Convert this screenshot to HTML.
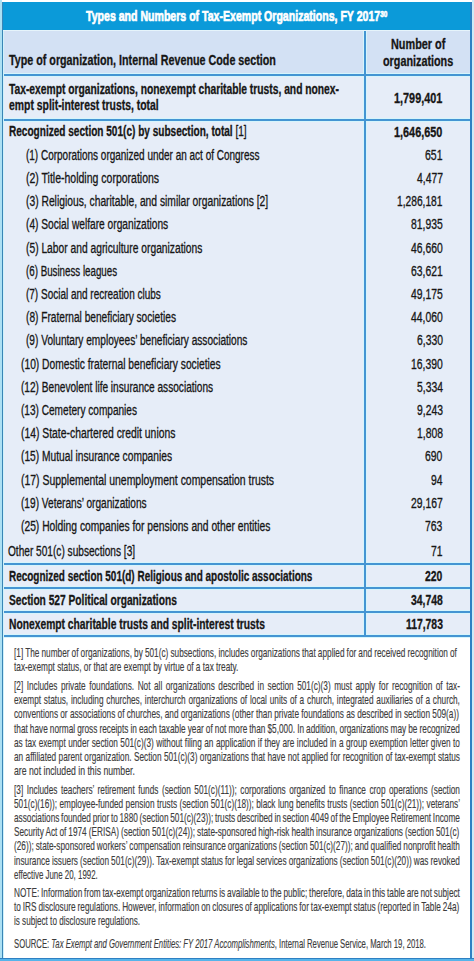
<!DOCTYPE html><html><head><meta charset="utf-8"><style>
*{margin:0;padding:0;box-sizing:border-box}
html,body{width:474px;height:961px;overflow:hidden;background:#ffffff;font-family:"Liberation Sans",sans-serif}
.ln{position:absolute;white-space:nowrap;transform-origin:0 0;line-height:20px}
.bd{-webkit-text-stroke:0.3px currentColor}
.rg{-webkit-text-stroke:0.3px currentColor}
.fn{-webkit-text-stroke:0.15px currentColor}
.tt{-webkit-text-stroke:0.65px currentColor}
sup{font-size:0.6em;vertical-align:0;position:relative;top:-0.55em}
</style></head><body><div style="position:absolute;left:0px;top:0px;width:2px;height:961px;background:#ade0f3"></div>
<div style="position:absolute;left:472px;top:0px;width:2px;height:961px;background:#cdebf8"></div>
<div style="position:absolute;left:2px;top:2px;width:470px;height:28px;background:#0b9ad9"></div>
<div style="position:absolute;left:2px;top:30px;width:470px;height:1px;background:#e6f4fb"></div>
<div style="position:absolute;left:2px;top:31px;width:470px;height:43px;background:#d3e1f4"></div>
<div style="position:absolute;left:2px;top:75px;width:470px;height:561px;background:#e6edf8"></div>
<div style="position:absolute;left:2px;top:637px;width:470px;height:321px;background:#ffffff"></div>
<div style="position:absolute;left:2px;top:73px;width:470px;height:1px;background:#d6f5fc"></div>
<div style="position:absolute;left:2px;top:76px;width:470px;height:1px;background:#d6f5fc"></div>
<div style="position:absolute;left:2px;top:118px;width:470px;height:1px;background:#d6f5fc"></div>
<div style="position:absolute;left:2px;top:121px;width:470px;height:1px;background:#d6f5fc"></div>
<div style="position:absolute;left:2px;top:562px;width:470px;height:1px;background:#d6f5fc"></div>
<div style="position:absolute;left:2px;top:565px;width:470px;height:1px;background:#d6f5fc"></div>
<div style="position:absolute;left:2px;top:586px;width:470px;height:1px;background:#d6f5fc"></div>
<div style="position:absolute;left:2px;top:589px;width:470px;height:1px;background:#d6f5fc"></div>
<div style="position:absolute;left:2px;top:610px;width:470px;height:1px;background:#d6f5fc"></div>
<div style="position:absolute;left:2px;top:613px;width:470px;height:1px;background:#d6f5fc"></div>
<div style="position:absolute;left:2px;top:634px;width:470px;height:1px;background:#d6f5fc"></div>
<div style="position:absolute;left:2px;top:637px;width:470px;height:1px;background:#d6f5fc"></div>
<div style="position:absolute;left:363px;top:31px;width:1px;height:605px;background:#d6f5fc"></div>
<div style="position:absolute;left:366px;top:31px;width:1px;height:605px;background:#d6f5fc"></div>
<div style="position:absolute;left:2px;top:74px;width:470px;height:2px;background:#4495d3"></div>
<div style="position:absolute;left:2px;top:119px;width:470px;height:2px;background:#4495d3"></div>
<div style="position:absolute;left:2px;top:563px;width:470px;height:2px;background:#4495d3"></div>
<div style="position:absolute;left:2px;top:587px;width:470px;height:2px;background:#4495d3"></div>
<div style="position:absolute;left:2px;top:611px;width:470px;height:2px;background:#4495d3"></div>
<div style="position:absolute;left:2px;top:635px;width:470px;height:2px;background:#4495d3"></div>
<div style="position:absolute;left:364px;top:31px;width:2px;height:605px;background:#4495d3"></div>
<div style="position:absolute;left:2px;top:2px;width:1.3px;height:958px;background:#3a85b6"></div>
<div style="position:absolute;left:3.3px;top:31px;width:1px;height:927px;background:#d0f2fb"></div>
<div style="position:absolute;left:470.3px;top:2px;width:1.7px;height:958px;background:#2f80c2"></div>
<div style="position:absolute;left:0px;top:957.5px;width:474px;height:1.7px;background:#2f80c2"></div>
<div style="position:absolute;left:0px;top:959.2px;width:474px;height:1.8px;background:#56b4ea"></div>
<div class="ln tt" style="font-size:14.4px;font-weight:700;color:#ffffff;left:86.30px;top:6.41px;transform:scaleX(0.7342)">Types and Numbers of Tax-Exempt Organizations, FY 2017<sup>30</sup></div>
<div class="ln bd" style="font-size:13.8px;font-weight:700;color:#161616;left:8.50px;top:51.22px;transform:scaleX(0.7777)">Type of organization, Internal Revenue Code section</div>
<div class="ln bd" style="font-size:13.8px;font-weight:700;color:#161616;left:391.30px;top:35.02px;transform:scaleX(0.7884)">Number of</div>
<div class="ln bd" style="font-size:13.8px;font-weight:700;color:#161616;left:383.20px;top:51.52px;transform:scaleX(0.7827)">organizations</div>
<div class="ln bd" style="font-size:13.8px;font-weight:700;color:#161616;left:8.50px;top:79.62px;transform:scaleX(0.7451)">Tax-exempt organizations, nonexempt charitable trusts, and nonex-</div>
<div class="ln bd" style="font-size:13.8px;font-weight:700;color:#161616;left:8.50px;top:96.22px;transform:scaleX(0.7540)">empt split-interest trusts, total</div>
<div class="ln bd" style="font-size:13.8px;font-weight:700;color:#161616;left:394.10px;top:88.52px;transform:scaleX(0.7868)">1,799,401</div>
<div class="ln bd" style="font-size:13.8px;font-weight:700;color:#161616;left:8.90px;top:122.22px;transform:scaleX(0.7292)">Recognized section 501(c) by subsection, total <span style="font-weight:400">[1]</span></div>
<div class="ln bd" style="font-size:13.8px;font-weight:700;color:#161616;left:394.40px;top:122.72px;transform:scaleX(0.7868)">1,646,650</div>
<div class="ln rg" style="font-size:13.8px;font-weight:400;color:#161616;left:26.00px;top:145.82px;transform:scaleX(0.7229)">(1) Corporations organized under an act of Congress</div>
<div class="ln rg" style="font-size:13.8px;font-weight:400;color:#161616;left:425.20px;top:145.82px;transform:scaleX(0.7598)">651</div>
<div class="ln rg" style="font-size:13.8px;font-weight:400;color:#161616;left:26.00px;top:169.02px;transform:scaleX(0.7612)">(2) Title-holding corporations</div>
<div class="ln rg" style="font-size:13.8px;font-weight:400;color:#161616;left:416.70px;top:169.02px;transform:scaleX(0.7529)">4,477</div>
<div class="ln rg" style="font-size:13.8px;font-weight:400;color:#161616;left:26.00px;top:192.22px;transform:scaleX(0.7463)">(3) Religious, charitable, and similar organizations [2]</div>
<div class="ln rg" style="font-size:13.8px;font-weight:400;color:#161616;left:397.20px;top:192.22px;transform:scaleX(0.7412)">1,286,181</div>
<div class="ln rg" style="font-size:13.8px;font-weight:400;color:#161616;left:26.00px;top:215.42px;transform:scaleX(0.7388)">(4) Social welfare organizations</div>
<div class="ln rg" style="font-size:13.8px;font-weight:400;color:#161616;left:411.00px;top:215.42px;transform:scaleX(0.7511)">81,935</div>
<div class="ln rg" style="font-size:13.8px;font-weight:400;color:#161616;left:26.00px;top:238.62px;transform:scaleX(0.7443)">(5) Labor and agriculture organizations</div>
<div class="ln rg" style="font-size:13.8px;font-weight:400;color:#161616;left:411.00px;top:238.62px;transform:scaleX(0.7511)">46,660</div>
<div class="ln rg" style="font-size:13.8px;font-weight:400;color:#161616;left:26.00px;top:261.82px;transform:scaleX(0.7071)">(6) Business leagues</div>
<div class="ln rg" style="font-size:13.8px;font-weight:400;color:#161616;left:411.00px;top:261.82px;transform:scaleX(0.7512)">63,621</div>
<div class="ln rg" style="font-size:13.8px;font-weight:400;color:#161616;left:26.00px;top:285.02px;transform:scaleX(0.7233)">(7) Social and recreation clubs</div>
<div class="ln rg" style="font-size:13.8px;font-weight:400;color:#161616;left:411.00px;top:285.02px;transform:scaleX(0.7512)">49,175</div>
<div class="ln rg" style="font-size:13.8px;font-weight:400;color:#161616;left:26.00px;top:308.22px;transform:scaleX(0.7354)">(8) Fraternal beneficiary societies</div>
<div class="ln rg" style="font-size:13.8px;font-weight:400;color:#161616;left:411.00px;top:308.22px;transform:scaleX(0.7512)">44,060</div>
<div class="ln rg" style="font-size:13.8px;font-weight:400;color:#161616;left:26.00px;top:331.42px;transform:scaleX(0.7340)">(9) Voluntary employees’ beneficiary associations</div>
<div class="ln rg" style="font-size:13.8px;font-weight:400;color:#161616;left:416.76px;top:331.42px;transform:scaleX(0.7512)">6,330</div>
<div class="ln rg" style="font-size:13.8px;font-weight:400;color:#161616;left:20.70px;top:354.62px;transform:scaleX(0.7441)">(10) Domestic fraternal beneficiary societies</div>
<div class="ln rg" style="font-size:13.8px;font-weight:400;color:#161616;left:411.00px;top:354.62px;transform:scaleX(0.7512)">16,390</div>
<div class="ln rg" style="font-size:13.8px;font-weight:400;color:#161616;left:20.70px;top:377.82px;transform:scaleX(0.7324)">(12) Benevolent life insurance associations</div>
<div class="ln rg" style="font-size:13.8px;font-weight:400;color:#161616;left:416.76px;top:377.82px;transform:scaleX(0.7512)">5,334</div>
<div class="ln rg" style="font-size:13.8px;font-weight:400;color:#161616;left:20.70px;top:401.02px;transform:scaleX(0.7308)">(13) Cemetery companies</div>
<div class="ln rg" style="font-size:13.8px;font-weight:400;color:#161616;left:416.76px;top:401.02px;transform:scaleX(0.7512)">9,243</div>
<div class="ln rg" style="font-size:13.8px;font-weight:400;color:#161616;left:20.70px;top:424.22px;transform:scaleX(0.7512)">(14) State-chartered credit unions</div>
<div class="ln rg" style="font-size:13.8px;font-weight:400;color:#161616;left:416.76px;top:424.22px;transform:scaleX(0.7512)">1,808</div>
<div class="ln rg" style="font-size:13.8px;font-weight:400;color:#161616;left:20.70px;top:447.42px;transform:scaleX(0.7402)">(15) Mutual insurance companies</div>
<div class="ln rg" style="font-size:13.8px;font-weight:400;color:#161616;left:425.40px;top:447.42px;transform:scaleX(0.7512)">690</div>
<div class="ln rg" style="font-size:13.8px;font-weight:400;color:#161616;left:20.70px;top:470.62px;transform:scaleX(0.7569)">(17) Supplemental unemployment compensation trusts</div>
<div class="ln rg" style="font-size:13.8px;font-weight:400;color:#161616;left:431.16px;top:470.62px;transform:scaleX(0.7512)">94</div>
<div class="ln rg" style="font-size:13.8px;font-weight:400;color:#161616;left:20.70px;top:493.82px;transform:scaleX(0.7338)">(19) Veterans’ organizations</div>
<div class="ln rg" style="font-size:13.8px;font-weight:400;color:#161616;left:411.00px;top:493.82px;transform:scaleX(0.7512)">29,167</div>
<div class="ln rg" style="font-size:13.8px;font-weight:400;color:#161616;left:20.70px;top:517.02px;transform:scaleX(0.7455)">(25) Holding companies for pensions and other entities</div>
<div class="ln rg" style="font-size:13.8px;font-weight:400;color:#161616;left:425.40px;top:517.02px;transform:scaleX(0.7512)">763</div>
<div class="ln rg" style="font-size:13.8px;font-weight:400;color:#161616;left:8.30px;top:541.62px;transform:scaleX(0.7334)">Other 501(c) subsections [3]</div>
<div class="ln rg" style="font-size:13.8px;font-weight:400;color:#161616;left:431.16px;top:541.62px;transform:scaleX(0.7512)">71</div>
<div class="ln bd" style="font-size:13.8px;font-weight:700;color:#161616;left:8.60px;top:567.22px;transform:scaleX(0.7221)">Recognized section 501(d) Religious and apostolic associations</div>
<div class="ln bd" style="font-size:13.8px;font-weight:700;color:#161616;left:425.40px;top:567.22px;transform:scaleX(0.7512)">220</div>
<div class="ln bd" style="font-size:13.8px;font-weight:700;color:#161616;left:8.60px;top:591.32px;transform:scaleX(0.7394)">Section 527 Political organizations</div>
<div class="ln bd" style="font-size:13.8px;font-weight:700;color:#161616;left:411.00px;top:591.32px;transform:scaleX(0.7512)">34,748</div>
<div class="ln bd" style="font-size:13.8px;font-weight:700;color:#161616;left:8.60px;top:615.12px;transform:scaleX(0.7453)">Nonexempt charitable trusts and split-interest trusts</div>
<div class="ln bd" style="font-size:13.8px;font-weight:700;color:#161616;left:405.80px;top:615.12px;transform:scaleX(0.7512)">117,783</div>
<div class="ln fn" style="font-size:12.4px;font-weight:400;color:#3d3d3d;word-spacing:-0.234px;left:14.00px;top:643.20px;transform:scaleX(0.6655)">[1] The number of organizations, by 501(c) subsections, includes organizations that applied for and received recognition of</div>
<div class="ln fn" style="font-size:12.4px;font-weight:400;color:#3d3d3d;left:14.00px;top:657.40px;transform:scaleX(0.6668)">tax-exempt status, or that are exempt by virtue of a tax treaty.</div>
<div class="ln fn" style="font-size:12.4px;font-weight:400;color:#3d3d3d;word-spacing:1.844px;left:14.00px;top:675.90px;transform:scaleX(0.6655)">[2] Includes private foundations. Not all organizations described in section 501(c)(3) must apply for recognition of tax-</div>
<div class="ln fn" style="font-size:12.4px;font-weight:400;color:#3d3d3d;word-spacing:0.768px;left:14.00px;top:690.20px;transform:scaleX(0.6655)">exempt status, including churches, interchurch organizations of local units of a church, integrated auxiliaries of a church,</div>
<div class="ln fn" style="font-size:12.4px;font-weight:400;color:#3d3d3d;word-spacing:-0.019px;left:14.00px;top:704.40px;transform:scaleX(0.6655)">conventions or associations of churches, and organizations (other than private foundations as described in section 509(a))</div>
<div class="ln fn" style="font-size:12.4px;font-weight:400;color:#3d3d3d;word-spacing:-0.262px;left:14.00px;top:718.60px;transform:scaleX(0.6655)">that have normal gross receipts in each taxable year of not more than &#36;5,000. In addition, organizations may be recognized</div>
<div class="ln fn" style="font-size:12.4px;font-weight:400;color:#3d3d3d;word-spacing:0.269px;left:14.00px;top:732.80px;transform:scaleX(0.6655)">as tax exempt under section 501(c)(3) without filing an application if they are included in a group exemption letter given to</div>
<div class="ln fn" style="font-size:12.4px;font-weight:400;color:#3d3d3d;word-spacing:0.189px;left:14.00px;top:747.00px;transform:scaleX(0.6655)">an affiliated parent organization. Section 501(c)(3) organizations that have not applied for recognition of tax-exempt status</div>
<div class="ln fn" style="font-size:12.4px;font-weight:400;color:#3d3d3d;left:14.00px;top:761.20px;transform:scaleX(0.7015)">are not included in this number.</div>
<div class="ln fn" style="font-size:12.4px;font-weight:400;color:#3d3d3d;word-spacing:1.846px;left:14.00px;top:779.50px;transform:scaleX(0.6655)">[3] Includes teachers’ retirement funds (section 501(c)(11)); corporations organized to finance crop operations (section</div>
<div class="ln fn" style="font-size:12.4px;font-weight:400;color:#3d3d3d;word-spacing:0.179px;left:14.00px;top:793.80px;transform:scaleX(0.6655)">501(c)(16)); employee-funded pension trusts (section 501(c)(18)); black lung benefits trusts (section 501(c)(21)); veterans’</div>
<div class="ln fn" style="font-size:12.4px;font-weight:400;color:#3d3d3d;word-spacing:-0.825px;left:14.00px;top:808.00px;transform:scaleX(0.6655)">associations founded prior to 1880 (section 501(c)(23)); trusts described in section 4049 of the Employee Retirement Income</div>
<div class="ln fn" style="font-size:12.4px;font-weight:400;color:#3d3d3d;word-spacing:-0.340px;left:14.00px;top:822.20px;transform:scaleX(0.6655)">Security Act of 1974 (ERISA) (section 501(c)(24)); state-sponsored high-risk health insurance organizations (section 501(c)</div>
<div class="ln fn" style="font-size:12.4px;font-weight:400;color:#3d3d3d;word-spacing:-0.406px;left:14.00px;top:836.40px;transform:scaleX(0.6655)">(26)); state-sponsored workers’ compensation reinsurance organizations (section 501(c)(27)); and qualified nonprofit health</div>
<div class="ln fn" style="font-size:12.4px;font-weight:400;color:#3d3d3d;word-spacing:-0.250px;left:14.00px;top:850.60px;transform:scaleX(0.6655)">insurance issuers (section 501(c)(29)). Tax-exempt status for legal services organizations (section 501(c)(20)) was revoked</div>
<div class="ln fn" style="font-size:12.4px;font-weight:400;color:#3d3d3d;left:14.00px;top:864.80px;transform:scaleX(0.6379)">effective June 20, 1992.</div>
<div class="ln fn" style="font-size:12.4px;font-weight:400;color:#3d3d3d;word-spacing:-0.694px;left:14.00px;top:883.00px;transform:scaleX(0.6655)">NOTE: Information from tax-exempt organization returns is available to the public; therefore, data in this table are not subject</div>
<div class="ln fn" style="font-size:12.4px;font-weight:400;color:#3d3d3d;word-spacing:-0.521px;left:14.00px;top:897.20px;transform:scaleX(0.6655)">to IRS disclosure regulations. However, information on closures of applications for tax-exempt status (reported in Table 24a)</div>
<div class="ln fn" style="font-size:12.4px;font-weight:400;color:#3d3d3d;left:14.00px;top:911.40px;transform:scaleX(0.6557)">is subject to disclosure regulations.</div>
<div class="ln fn" style="font-size:12.4px;font-weight:400;color:#3d3d3d;left:14.00px;top:933.70px;transform:scaleX(0.6236)">SOURCE: <i>Tax Exempt and Government Entities: FY 2017 Accomplishments</i>, Internal Revenue Service, March 19, 2018.</div></body></html>
